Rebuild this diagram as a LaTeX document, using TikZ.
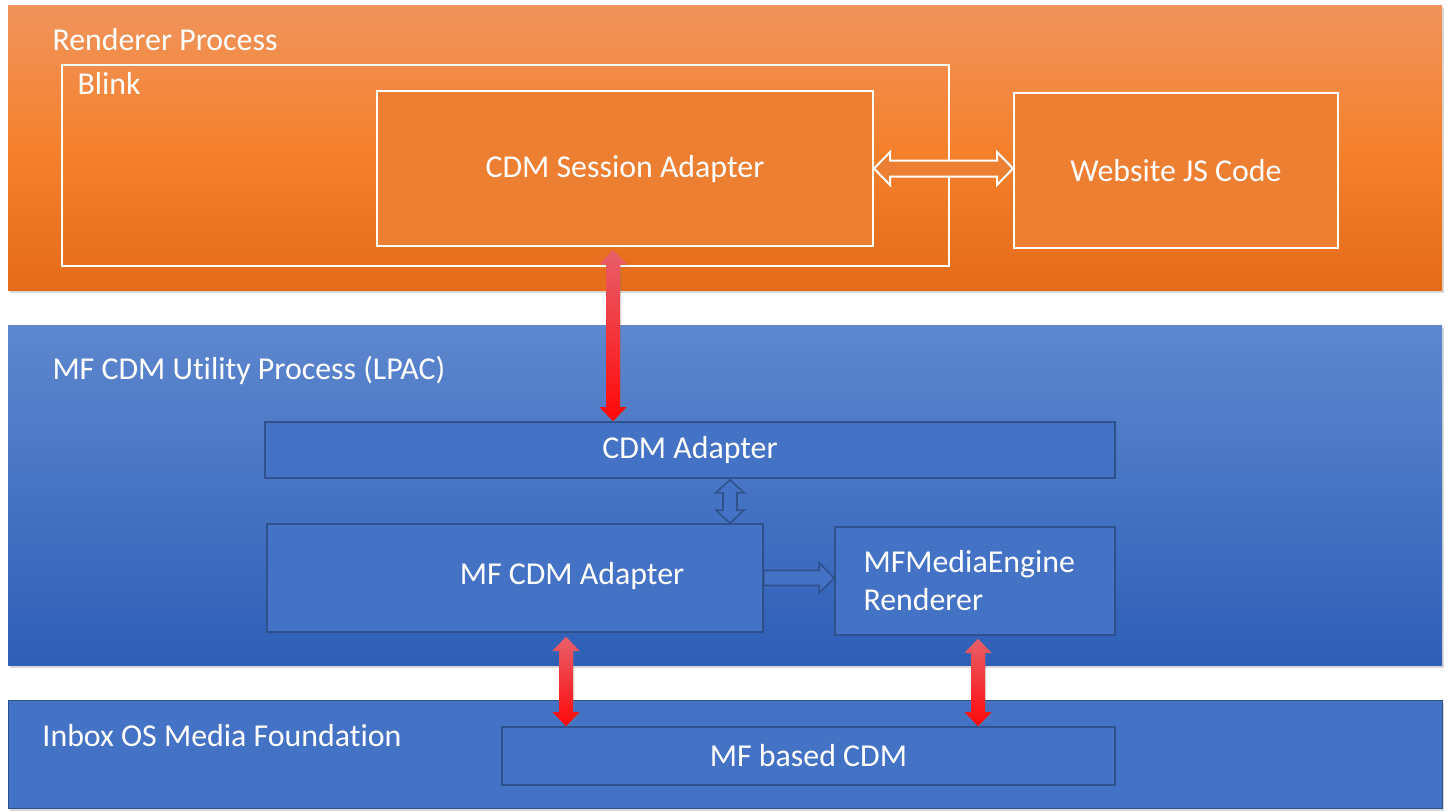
\documentclass[tikz,border=0pt]{standalone}
\usepackage{fontspec}
\setmainfont{Carlito}[Ligatures=NoCommon]
\usetikzlibrary{calc}
\usetikzlibrary{fit}
\usetikzlibrary{shadows}
\tikzset{every picture/.style={line width=0.75pt}}

\definecolor{orTop}{RGB}{240,148,92}
\definecolor{orMid}{RGB}{245,129,45}
\definecolor{orBot}{RGB}{228,107,26}
\definecolor{orFill}{RGB}{237,127,50}
\definecolor{blTop}{RGB}{93,135,206}
\definecolor{blBot}{RGB}{46,95,183}
\definecolor{blFill}{RGB}{68,114,196}
\definecolor{blLine}{RGB}{47,82,143}
\definecolor{redTop}{RGB}{232,96,106}
\definecolor{redBot}{RGB}{255,8,8}

\newcommand{\lblfont}{\fontsize{23.9}{28.5}\selectfont}

% block arrows: style, from, to, shaft half width, head half width, head length
\newcommand{\vdouble}[6]{%
  \path[#1] (#2) -- ($(#2)+(#5,#6)$) -- ($(#2)+(#4,#6)$) -- ($(#3)+(#4,-#6)$) -- ($(#3)+(#5,-#6)$) -- (#3)
    -- ($(#3)+(-#5,-#6)$) -- ($(#3)+(-#4,-#6)$) -- ($(#2)+(-#4,#6)$) -- ($(#2)+(-#5,#6)$) -- cycle;}
\newcommand{\hdouble}[6]{%
  \path[#1] (#2) -- ($(#2)+(#6,-#5)$) -- ($(#2)+(#6,-#4)$) -- ($(#3)+(-#6,-#4)$) -- ($(#3)+(-#6,-#5)$) -- (#3)
    -- ($(#3)+(-#6,#5)$) -- ($(#3)+(-#6,#4)$) -- ($(#2)+(#6,#4)$) -- ($(#2)+(#6,#5)$) -- cycle;}
\newcommand{\hsingle}[6]{%
  \path[#1] ($(#2)+(0,-#4)$) -- ($(#3)+(-#6,-#4)$) -- ($(#3)+(-#6,-#5)$) -- (#3)
    -- ($(#3)+(-#6,#5)$) -- ($(#3)+(-#6,#4)$) -- ($(#2)+(0,#4)$) -- cycle;}

\begin{document}
\begin{tikzpicture}[x=0.75pt,y=0.75pt,yscale=-1,xscale=1,
  panel/.style={inner sep=0pt, drop shadow={opacity=0.3, shadow xshift=1.5pt, shadow yshift=-2pt}},
  renderpanel/.style={panel, top color=orTop, bottom color=orBot, middle color=orMid},
  utilpanel/.style={panel, top color=blTop, bottom color=blBot},
  mfpanel/.style={panel, fill=blFill, draw=blLine, line width=0.6pt},
  outlinebox/.style={inner sep=0pt, draw=white, line width=1.5pt},
  orangebox/.style={outlinebox, fill=orFill},
  bluebox/.style={inner sep=0pt, draw=blLine, fill=blFill, line width=1.2pt},
  lbl/.style={inner sep=0pt, text=white, font=\lblfont},
  redarrow/.style={top color=redTop, bottom color=redBot, drop shadow={opacity=0.25, shadow xshift=1pt, shadow yshift=-1pt}},
  bluearrow/.style={fill=blFill, draw=blLine, line width=1.2pt},
  whitearrow/.style={fill=orFill, draw=white, line width=1.5pt}]
\useasboundingbox (0,0) rectangle (1450,811);
\fill[white] (0,0) rectangle (1450,811);

%Panels
\node[renderpanel, fit={(8,5) (1442,290)}] (rp) {};
\node[utilpanel, fit={(8,325) (1442,665)}] (up) {};
\node[mfpanel, fit={(8,700) (1442,808)}] (mp) {};

%Renderer process
\node[outlinebox, fit={(62,65) (949,266)}] (blink) {};
\node[orangebox, fit={(377,91) (873,246)}, label={[lbl]center:CDM Session Adapter}] (csa) {};
\node[orangebox, fit={(1014,93) (1338,248)}, label={[lbl]center:Website JS Code}] (web) {};

%Utility process
\node[bluebox, fit={(265,422) (1115,478)}, label={[lbl]center:CDM Adapter}] (cda) {};
\node[bluebox, fit={(267,524) (763,632)}] (mfa) {};
\node[bluebox, fit={(835,527) (1115,635)}] (mfr) {};

%Media foundation
\node[bluebox, fit={(502,727) (1115,785)}, label={[lbl]center:MF based CDM}] (mfc) {};

% Text Node
\node[lbl, anchor=base west] (rptxt) at (52,50) {Renderer Process};
% Text Node
\node[lbl, anchor=base west] (blinktxt) at (77,94) {Blink};
% Text Node
\node[lbl, anchor=base west] (uptxt) at (52,379) {MF CDM Utility Process (LPAC)};
% Text Node
\node[lbl, anchor=base west] (mptxt) at (42,746) {Inbox OS Media Foundation};
% Text Node
\node[lbl] (mfatxt) at (572,576) {MF CDM Adapter};
% Text Node
\node[lbl, anchor=base west] (mfrtxt1) at (863,572) {MFMediaEngine};
% Text Node
\node[lbl, anchor=base west] (mfrtxt2) at (863,610) {Renderer};

%Arrows
\coordinate (ra1) at ($(csa.south)+(-12,3)$);
\coordinate (rb1) at (cda.north -| ra1);
\vdouble{redarrow}{ra1}{rb1}{7}{13.5}{14}
\coordinate (ra2) at ($(mfa.south)+(51,4)$);
\coordinate (rb2) at (mfc.north -| ra2);
\vdouble{redarrow}{ra2}{rb2}{7}{13.5}{14}
\coordinate (ra3) at ($(mfr.south)+(3,3)$);
\coordinate (rb3) at (mfc.north -| ra3);
\vdouble{redarrow}{ra3}{rb3}{7}{13.5}{14}
\coordinate (ba1) at ($(cda.south)+(40,1)$);
\coordinate (bb1) at (mfa.north -| ba1);
\vdouble{bluearrow}{ba1}{bb1}{7}{14}{13}
\coordinate (bb2) at (mfr.west |- mfa.east);
\hsingle{bluearrow}{mfa.east}{bb2}{7.5}{15}{15}
\coordinate (wb1) at (web.west |- csa.east);
\hdouble{whitearrow}{csa.east}{wb1}{8}{16.5}{16}

\end{tikzpicture}
\end{document}
